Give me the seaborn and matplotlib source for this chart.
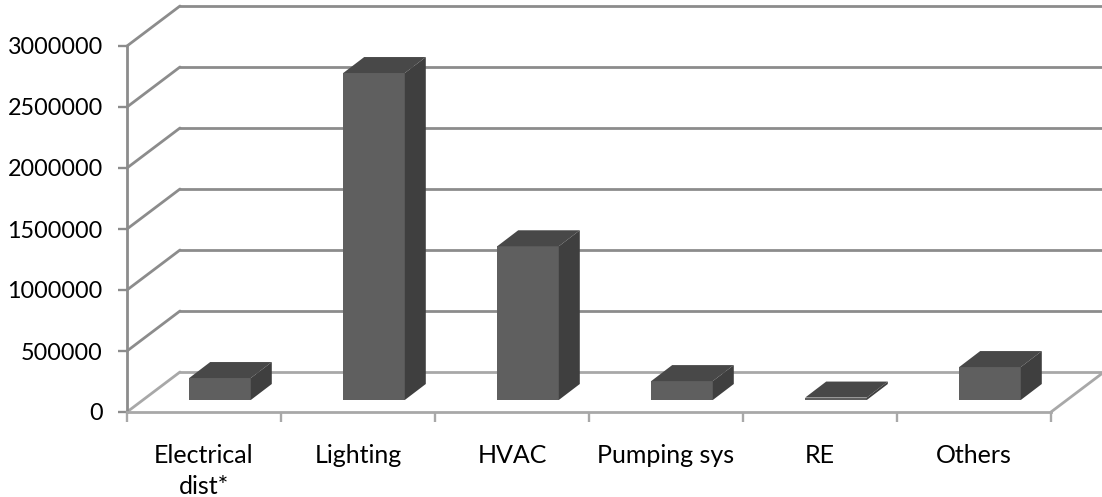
import numpy as np
import pandas as pd
import seaborn as sns
import matplotlib
matplotlib.use('Agg')
import matplotlib.pyplot as plt
from matplotlib.patches import Polygon
from matplotlib.transforms import Affine2D

categories = ['Electrical\ndist*', 'Lighting', 'HVAC', 'Pumping sys', 'RE', 'Others']
values = [180000, 2680000, 1260000, 155000, 20000, 270000]
yticks = [0, 500000, 1000000, 1500000, 2000000, 2500000, 3000000]

sns.set_style('white')
plt.rcParams['font.family'] = ['Lato', 'DejaVu Sans']

grid_col = '#8c8c8c'
floor_col = '#a8a8a8'
front_col = '#5f5f5f'
top_col = '#484848'
side_col = '#3f3f3f'

fig = plt.figure(figsize=(11.02, 4.97), dpi=100)
W, H = 1102, 497
ax = fig.add_axes([127/W, (H-412)/H, 924/W, 366/H])

df = pd.DataFrame({'cat': categories, 'val': values})
sns.barplot(data=df, x='cat', y='val', color=front_col, saturation=1, width=0.4, ax=ax, zorder=3)
ax.set_xlim(-0.5, 5.5)
ax.set_ylim(0, 3000000)
ax.set_xlabel('')
ax.set_ylabel('')

# pixels per data unit, used to turn the fake 3d depth into data units
px_x = 924/6
px_y = 366/3000000

# back wall, shifted up and right from the front plane
wall = ax.transData + Affine2D().translate(53, 40)
for v in yticks:
    c = floor_col if v == 0 else grid_col
    ax.plot([-0.5, 5.5], [v, v], transform=wall, color=c, lw=2, clip_on=False, zorder=1)
    ax.plot([-0.5, -0.5+53/px_x], [v, v+40/px_y], color=c, lw=2, clip_on=False, zorder=1)
ax.plot([5.5, 5.5+53/px_x], [0, 40/px_y], color=floor_col, lw=2, clip_on=False, zorder=1)

# bars stand a bit inside the floor, add the depth faces
shift = ax.transData + Affine2D().translate(16, 12)
dx = 21/px_x
dy = 16/px_y
for p in list(ax.patches):
    x0 = p.get_x()
    x1 = x0 + p.get_width()
    h = p.get_height()
    p.set_transform(shift)
    p.set_clip_on(False)
    p.set_edgecolor('none')
    top = [(x0, h), (x1, h), (x1+dx, h+dy), (x0+dx, h+dy)]
    side = [(x1, 0), (x1+dx, dy), (x1+dx, h+dy), (x1, h)]
    ax.add_patch(Polygon(top, closed=True, fc=top_col, ec='none', transform=shift, clip_on=False, zorder=3))
    ax.add_patch(Polygon(side, closed=True, fc=side_col, ec='none', transform=shift, clip_on=False, zorder=3))

sns.despine(ax=ax, top=True, right=True)
for s in ['left', 'bottom']:
    ax.spines[s].set_linewidth(2)
ax.spines['left'].set_color(grid_col)
ax.spines['bottom'].set_color(floor_col)
ax.spines['left'].set_zorder(2)
ax.spines['bottom'].set_zorder(2)

ax.set_yticks(yticks)
ax.set_yticklabels([str(v) for v in yticks])
ax.set_xticks(np.arange(-0.5, 6, 1))
ax.set_xticklabels([])
ax.set_xticks(np.arange(6), minor=True)
ax.set_xticklabels(categories, minor=True, linespacing=1.4)
ax.tick_params(axis='y', which='major', left=True, length=6.5, width=1.7, color=grid_col,
               labelsize=16.8, labelcolor='black', pad=11)
ax.tick_params(axis='x', which='major', bottom=True, length=7, width=1.7, color=floor_col)
ax.tick_params(axis='x', which='minor', bottom=False, length=0, labelsize=18, labelcolor='black', pad=23)

plt.savefig('out.png', dpi=100)
